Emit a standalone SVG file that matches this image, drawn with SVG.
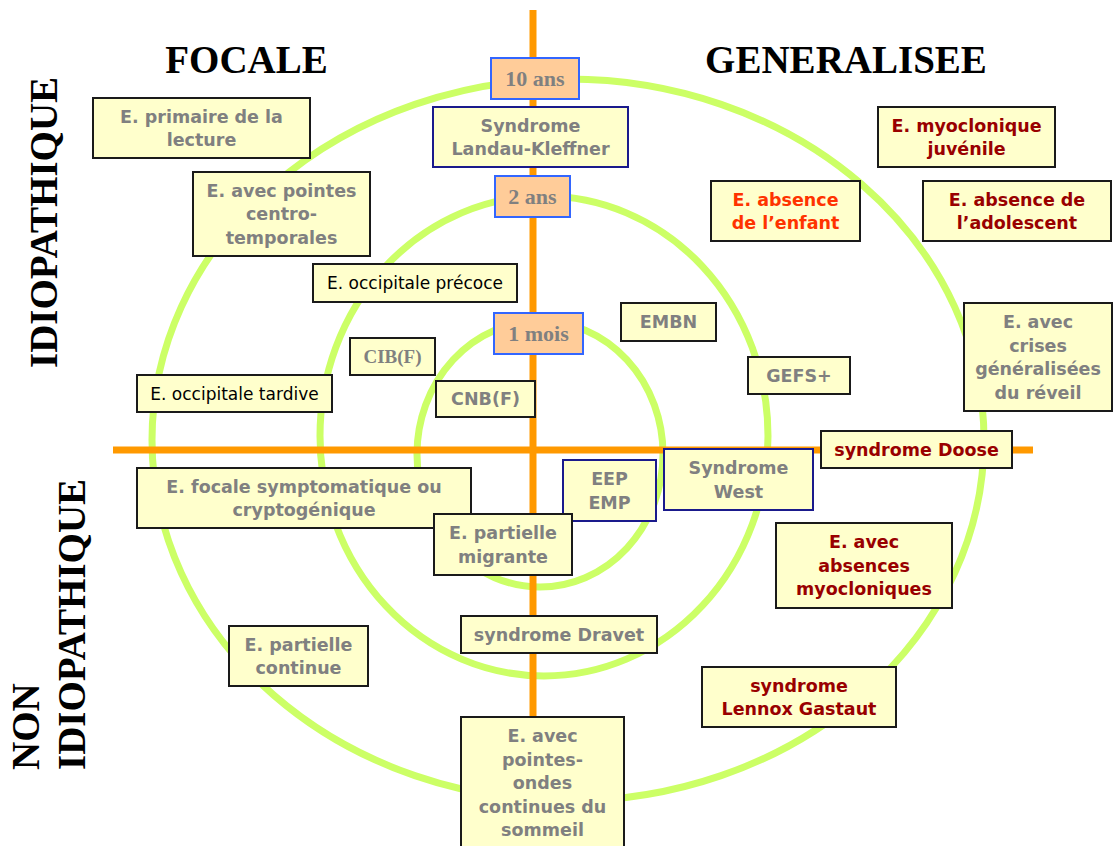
<svg xmlns="http://www.w3.org/2000/svg" width="1113" height="846" viewBox="0 0 1113 846">
<style>
.ring{fill:none;stroke:#ccff66;stroke-width:7}
.axis{stroke:#ff9900;stroke-width:7}
.box{fill:#ffffcc;stroke:#1a1a1a;stroke-width:2}
.nbox{fill:#ffffcc;stroke:#1a1a8c;stroke-width:2}
.age{fill:#ffcc99;stroke:#3366ff;stroke-width:2}
.t{font-family:"DejaVu Sans",Verdana,sans-serif;font-weight:bold;font-size:17.5px;fill:#808080;text-anchor:middle}
.n{font-family:"DejaVu Sans",Verdana,sans-serif;font-size:17px;fill:#000;text-anchor:middle}
.r{fill:#990000}
.o{fill:#ff3300}
.s{font-family:"Liberation Serif","Times New Roman",serif;font-weight:bold;fill:#808080;text-anchor:middle}
.title{font-family:"Liberation Serif","Times New Roman",serif;font-weight:bold;font-size:39px;fill:#000}
</style>
<rect width="1113" height="846" fill="#fff"/>
<g id="rings">
<ellipse class="ring" cx="568" cy="440" rx="416" ry="361"/>
<ellipse class="ring" cx="544" cy="436" rx="224" ry="240"/>
<ellipse class="ring" cx="540" cy="454" rx="123" ry="133"/>
</g>
<g id="connectors">
<line class="axis" x1="533" y1="10" x2="533" y2="846"/>
<line class="axis" x1="113" y1="450" x2="1033" y2="450"/>
</g>
<g id="titles">
<text class="title" x="246.5" y="73" text-anchor="middle">FOCALE</text>
<text class="title" x="846" y="73" text-anchor="middle">GENERALISEE</text>
<text class="title" transform="translate(57,368) rotate(-90)">IDIOPATHIQUE</text>
<text class="title" transform="translate(39,770) rotate(-90)">NON</text>
<text class="title" transform="translate(85,770) rotate(-90)">IDIOPATHIQUE</text>
</g>
<g id="age10"><rect class="age" x="491" y="58" width="88" height="41"/><text class="s" font-size="22" x="535" y="86">10 ans</text></g>
<g id="landau"><rect class="nbox" x="433" y="107" width="195" height="60"/><text class="t"><tspan x="530.5" y="131.6">Syndrome</tspan><tspan x="530.5" y="155.1">Landau-Kleffner</tspan></text></g>
<g id="age2"><rect class="age" x="495" y="176" width="75" height="41"/><text class="s" font-size="22" x="532.5" y="204">2 ans</text></g>
<g id="age1m"><rect class="age" x="494" y="313" width="89" height="41"/><text class="s" font-size="22" x="538.5" y="341">1 mois</text></g>
<g id="primaire"><rect class="box" x="93" y="98" width="217" height="60"/><text class="t"><tspan x="201.5" y="122.6">E. primaire de la</tspan><tspan x="201.5" y="146.1">lecture</tspan></text></g>
<g id="centro"><rect class="box" x="193" y="172" width="177" height="84"/><text class="t"><tspan x="281.5" y="196.9">E. avec pointes</tspan><tspan x="281.5" y="220.4">centro-</tspan><tspan x="281.5" y="243.9">temporales</tspan></text></g>
<g id="precoce"><rect class="box" x="313" y="264" width="204" height="38"/><text class="n" x="415" y="289.2">E. occipitale précoce</text></g>
<g id="cib"><rect class="box" x="350" y="338" width="85" height="37"/><text class="s" font-size="19" x="392.5" y="363">CIB(F)</text></g>
<g id="tardive"><rect class="box" x="137" y="375" width="195" height="37"/><text class="n" x="234.5" y="399.7">E. occipitale tardive</text></g>
<g id="cnb"><rect class="box" x="436" y="381" width="99" height="36"/><text class="t" x="485.5" y="405.4">CNB(F)</text></g>
<g id="embn"><rect class="box" x="621" y="303" width="95" height="38"/><text class="t" x="668.5" y="328.4">EMBN</text></g>
<g id="gefs"><rect class="box" x="748" y="357" width="102" height="37"/><text class="t" x="799" y="381.9">GEFS+</text></g>
<g id="reveil"><rect class="box" x="964" y="303" width="148" height="108"/><text class="t"><tspan x="1038" y="328.2">E. avec</tspan><tspan x="1038" y="351.7">crises</tspan><tspan x="1038" y="375.2">généralisées</tspan><tspan x="1038" y="398.7">du réveil</tspan></text></g>
<g id="myoclonique"><rect class="box" x="878" y="107" width="177" height="60"/><text class="t r"><tspan x="966.5" y="131.6">E. myoclonique</tspan><tspan x="966.5" y="155.1">juvénile</tspan></text></g>
<g id="enfant"><rect class="box" x="711" y="181" width="149" height="60"/><text class="t o"><tspan x="785.5" y="205.6">E. absence</tspan><tspan x="785.5" y="229.1">de l’enfant</tspan></text></g>
<g id="adolescent"><rect class="box" x="923" y="181" width="188" height="60"/><text class="t r"><tspan x="1017" y="205.6">E. absence de</tspan><tspan x="1017" y="229.1">l’adolescent</tspan></text></g>
<g id="doose"><rect class="box" x="821" y="431" width="191" height="37"/><text class="t r" x="916.5" y="455.9">syndrome Doose</text></g>
<g id="west"><rect class="nbox" x="664" y="449" width="149" height="61"/><text class="t"><tspan x="738.5" y="474.1">Syndrome</tspan><tspan x="738.5" y="497.6">West</tspan></text></g>
<g id="eep"><rect class="nbox" x="563" y="460" width="93" height="61"/><text class="t"><tspan x="609.5" y="485.1">EEP</tspan><tspan x="609.5" y="508.6">EMP</tspan></text></g>
<g id="focale"><rect class="box" x="137" y="468" width="334" height="60"/><text class="t"><tspan x="304" y="492.6">E. focale symptomatique ou</tspan><tspan x="304" y="516.1">cryptogénique</tspan></text></g>
<g id="migrante"><rect class="box" x="434" y="514" width="138" height="61"/><text class="t"><tspan x="503" y="539.1">E. partielle</tspan><tspan x="503" y="562.6">migrante</tspan></text></g>
<g id="absences"><rect class="box" x="776" y="523" width="176" height="85"/><text class="t r"><tspan x="864" y="548.4">E. avec</tspan><tspan x="864" y="571.9">absences</tspan><tspan x="864" y="595.4">myocloniques</tspan></text></g>
<g id="dravet"><rect class="box" x="461" y="616" width="196" height="37"/><text class="t" x="559" y="640.9">syndrome Dravet</text></g>
<g id="continue"><rect class="box" x="229" y="626" width="139" height="60"/><text class="t"><tspan x="298.5" y="650.6">E. partielle</tspan><tspan x="298.5" y="674.1">continue</tspan></text></g>
<g id="lennox"><rect class="box" x="702" y="667" width="194" height="60"/><text class="t r"><tspan x="799" y="691.6">syndrome</tspan><tspan x="799" y="715.1">Lennox Gastaut</tspan></text></g>
<g id="sommeil"><rect class="box" x="461" y="717" width="163" height="145"/><text class="t"><tspan x="542.5" y="742">E. avec</tspan><tspan x="542.5" y="765.5">pointes-</tspan><tspan x="542.5" y="789">ondes</tspan><tspan x="542.5" y="812.5">continues du</tspan><tspan x="542.5" y="836">sommeil</tspan></text></g>
</svg>
